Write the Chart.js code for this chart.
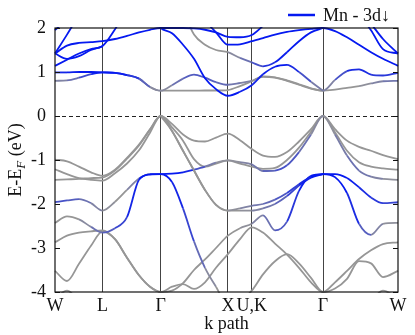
<!DOCTYPE html>
<html>
<head>
<meta charset="utf-8">
<script src="https://cdn.jsdelivr.net/npm/chart.js@4.4.1/dist/chart.umd.min.js"></script>
<style>
  html, body { margin: 0; padding: 0; background: #fff; }
</style>
</head>
<body>
<canvas id="bands" width="415" height="335"></canvas>
<script>
// k-path sample positions (path length units), high-symmetry points and labels
const kPath = [0, 12, 24, 36, 47.5, 60, 72, 84, 95, 105.7, 117, 128, 139, 150, 161, 172.9,
               185, 196.7, 208, 220, 232, 244, 256, 268, 280, 292, 304, 316, 328, 343];
const kSym = [0, 47.5, 105.7, 172.9, 196.7, 268, 343];
const kLabels = ['W', 'L', 'Γ', 'X', 'U,K', 'Γ', 'W'];
const yTicks = [2, 1, 0, -1, -2, -3, -4];

// band energies (eV) at each kPath point, and Mn-3d down weight (0 grey .. 1 blue)
const _ = null;
const cb1E = [0.99,0.99,1.00,1.00,0.99, 0.98,0.93,0.85,0.66,0.575, 0.70,0.85,0.94,0.87,0.77,0.71, 0.75,0.80, 0.89,0.87,0.80,0.71,0.62,0.575, 0.82,1.02,1.06,0.94,0.92,0.98];
const cb1W = [0.9,0.9,1,1,1, 1,0.9,0.6,0.2,0, 0.2,0.4,0.5,0.5,0.4,0.3, 0.2,0.1, 0,0,0,0,0,0, 0.3,0.8,0.9,0.8,0.7,0.8];
const cb2E = [0.80,0.81,0.87,0.95,0.99, 0.98,0.93,0.85,0.66,0.575, 0.575,0.575,0.575,0.58,0.58,0.59, 0.68,0.79, 0.90,0.88,0.81,0.72,0.63,0.575, 0.60,0.64,0.68,0.74,0.79,0.80];
const cb2W = [0.1,0.2,0.4,0.8,1, 1,0.9,0.6,0.2,0, 0,0,0,0,0,0, 0,0, 0,0,0,0,0,0, 0,0,0,0.1,0.2,0.3];
const cb3E = [1.14,1.28,1.42,1.52,1.59, 1.97,2.40,2.50,2.30,2.00, 1.88,1.62,1.30,0.86,0.61,0.46, 0.55,0.70, 0.95,1.12,1.16,1.00,0.78,0.575, _,_,_,_,_,_];
const cb3W = [1,1,1,1,1, 1,1,1,1,1, 1,1,1,1,1,1, 1,0.9, 0.9,1,1,0.7,0.4,0, 0,0,0,0,0,0];
const cb4E = [1.42,1.60,1.66,1.68,1.70, 1.75,1.82,1.90,1.96,2.00, 2.00,2.00,1.99,1.96,1.90,1.80, 1.79,1.84, 2.05,2.30,2.40,2.35,2.20,2.00, _,_,_,_,_,_];
const cb5E = [_,_,_,_,_, _,_,_,_,_, 2.60,2.45,2.30,2.15,1.90,1.62, 1.63,1.70, 1.77,1.85,1.91,1.95,1.98,2.00, 1.93,1.79,1.62,1.45,1.30,1.14];
const cb6E = [_,_,_,_,_, _,_,_,_,_, _,2.40,1.85,1.62,1.50,1.45, 1.32,1.22, 1.13,1.22,1.45,1.70,1.90,2.00, _,_,_,_,_,_];
const cb6W = [0,0,0,0,0, 0,0,0,0,0, 0,0,0,0,0,0, 0.2,0.4, 0.7,0.9,1,1,1,1, 0,0,0,0,0,0];
const cb7E = [1.42,1.30,1.36,1.50,1.58, _,_,_,_,_, _,_,_,_,_,_, _,_, _,_,_,_,_,_, _,_,_,_,_,_];
const cb8E = [1.42,1.85,2.30,_,_, _,_,_,_,_, _,_,_,_,_,_, _,_, _,_,_,_,_,_, _,_,_,_,_,_];
const cb9E = [1.95,2.20,2.50,_,_, _,_,_,_,_, _,_,_,_,_,_, _,_, _,_,_,_,_,_, _,_,_,_,_,_];
const cb10E = [_,_,_,_,_, _,_,_,_,_, _,_,_,_,_,_, _,_, _,_,_,_,_,_, _,_,2.30,1.95,1.52,1.42];
const cb11E = [_,_,_,_,_, _,_,_,_,_, _,_,_,_,_,_, _,_, _,_,_,_,_,_, _,_,_,2.10,1.75,1.42];

const vb1E = [-0.99,-1.03,-1.15,-1.28,-1.36, -1.22,-0.95,-0.65,-0.30,0, -0.18,-0.42,-0.56,-0.58,-0.49,-0.40, -0.55,-0.75, -0.90,-0.93,-0.82,-0.58,-0.30,0, -0.30,-0.56,-0.70,-0.79,-0.89,-0.98];
const vb2E = [-1.21,-1.32,-1.41,-1.45,-1.47, -1.30,-1.08,-0.78,-0.38,0, -0.26,-0.56,-0.98,-1.15,-1.08,-1.01, -1.08,-1.15, -1.20,-1.18,-1.00,-0.72,-0.36,0, -0.37,-0.79,-1.05,-1.15,-1.19,-1.22];
const vb3E = [-1.45,-1.44,-1.43,-1.41,-1.40, -1.24,-0.97,-0.67,-0.31,0, -0.34,-0.79,-1.24,-1.68,-2.02,-2.15, -2.10,-2.04, -2.00,-1.90,-1.75,-1.55,-1.38,-1.32, -1.32,-1.41,-1.62,-1.85,-1.98,-1.96];
const vb3W = [0,0,0,0,0, 0,0,0,0,0, 0,0,0,0,0,0, 0.1,0.2, 0.3,0.4,0.6,0.8,1,1, 1,1,0.9,0.8,0.7,0.6];
const vb4E = [-1.96,-1.92,-1.89,-1.98,-2.15, -1.95,-1.68,-1.42,-1.32,-1.32, -1.31,-1.28,-1.22,-1.15,-1.06,-1.01, -1.05,-1.10, -1.25,-1.24,-1.12,-0.82,-0.42,0, -0.42,-0.90,-1.24,-1.38,-1.43,-1.45];
const vb4W = [0.6,0.5,0.4,0.2,0.1, 0,0,0.3,0.7,1, 1,1,0.8,0.3,0.1,0, 0.1,0.2, 0.3,0.5,0.6,0.4,0.2,0, 0.1,0.3,0.3,0.2,0.1,0];
const vb5E = [-2.43,-2.28,-2.35,-2.52,-2.65, -2.55,-2.30,-1.45,-1.33,-1.32, -1.50,-2.10,-2.85,-3.45,-3.88,-4.30, -4.20,-3.97, -3.60,-3.30,-3.14,-3.35,-3.68,-4.00, -3.78,-3.52,-3.25,-3.05,-2.91,-2.87];
const vb5W = [0,0,0,0.2,0.4, 0.5,0.8,1,1,1, 1,0.8,0.5,0.2,0,0, 0,0, 0,0,0,0,0,0, 0,0,0,0,0,0];
const vb6E = [-2.87,-2.72,-2.65,-2.62,-2.60, -2.80,-3.22,-3.62,-3.88,-4.00, -3.97,-3.80,-3.50,-3.26,-3.00,-2.72, -2.55,-2.45, -2.26,-2.60,-2.40,-1.70,-1.36,-1.32, -1.39,-1.75,-2.45,-2.70,-2.45,-2.43];
const vb6W = [0,0,0,0,0, 0,0,0,0,0, 0,0,0,0,0,0, 0,0.1, 0.2,0.4,0.6,0.9,1,1, 1,1,0.7,0.2,0.1,0];
const vb7E = [-3.52,-3.75,-3.36,-2.95,-2.62, -2.80,-3.22,-3.62,-3.88,-4.00, -3.88,-3.82,-3.93,-3.78,-3.45,-3.14, -2.80,-2.53, -2.65,-2.90,-3.15,-3.45,-3.78,-4.00, -3.92,-3.70,-3.30,-3.35,-3.66,-3.52];
const vb8E = [_,_,_,_,_, _,_,_,_,0, -0.34,-0.79,-1.24,-1.68,-2.02,-2.15, -2.15,-2.15, -2.10,-2.00,-1.82,-1.58,-1.40,-1.32, _,_,_,_,_,_];
const vb8W = [0,0,0,0,0, 0,0,0,0,0, 0,0,0,0,0,0, 0,0.1, 0.2,0.3,0.5,0.8,1,1, 0,0,0,0,0,0];
const vb9E = [-4.15,-3.97,-4.20,_,_, _,_,_,_,_, _,_,_,_,_,_, _,_, _,_,_,_,_,_, _,_,_,-4.20,-3.97,-4.15];

// blue-ish bands first so they are drawn on top
const bandList = [
  [cb3E, cb3W], [cb4E, 1], [cb5E, 1], [cb7E, 1], [cb8E, 1], [cb9E, 1], [cb10E, 1], [cb11E, 1],
  [cb1E, cb1W], [cb6E, cb6W], [cb2E, cb2W],
  [vb3E, vb3W], [vb5E, vb5W], [vb6E, vb6W], [vb4E, vb4W], [vb8E, vb8W],
  [vb1E, 0], [vb2E, 0], [vb7E, 0], [vb9E, 0]
];

const GREY = [150, 150, 150];
const BLUE = [5, 25, 240];
function mix(t) {
  const c = GREY.map((g, i) => Math.round(g + (BLUE[i] - g) * t));
  return `rgb(${c[0]},${c[1]},${c[2]})`;
}
const wAt = (w, i) => Array.isArray(w) ? w[i] : w;

const serif = "'Liberation Serif', 'DejaVu Serif', serif";
Chart.defaults.font.family = serif;
Chart.defaults.font.size = 18;
Chart.defaults.color = '#111';

// frame, zero line, inner ticks, y title and legend
const decorations = {
  id: 'decorations',
  beforeDatasetsDraw(chart) {
    const { ctx, chartArea: a, scales: { y } } = chart;
    const y0 = y.getPixelForValue(0);
    ctx.save();
    ctx.strokeStyle = '#222';
    ctx.lineWidth = 1;
    ctx.setLineDash([4, 3]);
    ctx.beginPath();
    ctx.moveTo(a.left, y0 + 0.5);
    ctx.lineTo(a.right, y0 + 0.5);
    ctx.stroke();
    ctx.restore();
  },
  afterDraw(chart) {
    const { ctx, chartArea: a, scales: { y } } = chart;
    ctx.save();
    ctx.strokeStyle = '#111';
    ctx.lineWidth = 1.2;
    ctx.strokeRect(a.left, a.top, a.right - a.left, a.bottom - a.top);
    ctx.lineWidth = 1;
    yTicks.forEach(v => {
      const py = Math.round(y.getPixelForValue(v)) + 0.5;
      ctx.beginPath();
      ctx.moveTo(a.left, py); ctx.lineTo(a.left + 5, py);
      ctx.moveTo(a.right, py); ctx.lineTo(a.right - 5, py);
      ctx.stroke();
    });

    // y axis title: E-E_F (eV)
    ctx.translate(21, 160);
    ctx.rotate(-Math.PI / 2);
    ctx.fillStyle = '#111';
    ctx.textBaseline = 'alphabetic';
    const big = `18px ${serif}`, sub = `italic 13px ${serif}`;
    ctx.font = big; const w1 = ctx.measureText('E-E').width;
    ctx.font = sub; const w2 = ctx.measureText('F').width;
    ctx.font = big; const w3 = ctx.measureText(' (eV)').width;
    let x = -(w1 + w2 + w3) / 2;
    ctx.font = big; ctx.fillText('E-E', x, 0); x += w1;
    ctx.font = sub; ctx.fillText('F', x, 4); x += w2;
    ctx.font = big; ctx.fillText(' (eV)', x, 0);
    ctx.restore();

    // legend
    ctx.save();
    ctx.strokeStyle = mix(1);
    ctx.lineWidth = 2.5;
    ctx.beginPath();
    ctx.moveTo(288, 15); ctx.lineTo(315, 15);
    ctx.stroke();
    ctx.fillStyle = '#111';
    ctx.font = `18px ${serif}`;
    ctx.textBaseline = 'alphabetic';
    ctx.fillText('Mn - 3d↓', 323, 21);
    ctx.restore();
  }
};

new Chart(document.getElementById('bands'), {
  type: 'line',
  data: {
    datasets: bandList.map(([E, w]) => ({
      data: kPath.map((k, i) => ({ x: k, y: E[i] })),
      borderColor: mix(0),
      borderWidth: 1.8,
      pointRadius: 0,
      cubicInterpolationMode: 'monotone',
      spanGaps: false,
      clip: 1,
      segment: {
        borderColor: c => mix((wAt(w, c.p0DataIndex) + wAt(w, c.p1DataIndex)) / 2)
      }
    }))
  },
  options: {
    responsive: false,
    animation: false,
    devicePixelRatio: 1,
    layout: { padding: { top: 28, right: 17, left: 0, bottom: 0 } },
    plugins: { legend: { display: false }, tooltip: { enabled: false } },
    scales: {
      x: {
        type: 'linear',
        min: 0,
        max: 343,
        afterBuildTicks: axis => { axis.ticks = kSym.map(v => ({ value: v })); },
        afterFit: axis => { axis.height = 43; },
        ticks: {
          autoSkip: false,
          maxRotation: 0,
          padding: 3,
          callback: (v, i) => kLabels[i]
        },
        grid: {
          drawTicks: false,
          color: c => (c.index === 0 || c.index === kSym.length - 1) ? 'rgba(0,0,0,0)' : '#444',
          lineWidth: 1
        },
        border: { display: false },
        title: { display: true, text: 'k path', padding: { top: 0, bottom: 0 } }
      },
      y: {
        min: -4,
        max: 2,
        afterBuildTicks: axis => { axis.ticks = yTicks.map(v => ({ value: v })); },
        afterFit: axis => { axis.width = 55; },
        ticks: { padding: 9, callback: v => String(v) },
        grid: { display: false, drawTicks: false },
        border: { display: false }
      }
    }
  },
  plugins: [decorations]
});
</script>
</body>
</html>
